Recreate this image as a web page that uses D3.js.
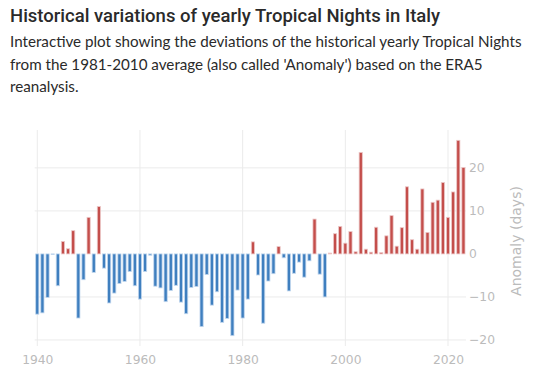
<!DOCTYPE html>
<html>
<head>
<meta charset="utf-8">
<script src="https://cdn.jsdelivr.net/npm/d3@7"></script>
<style>
  body { margin: 0; background: #fff; }
  .title { font-family: Roboto, sans-serif; font-weight: 500; font-size: 18.5px; fill: #2a2a2a; }
  .subtitle { font-family: Lato, sans-serif; font-size: 15.2px; fill: #2a2a2a; }
  .tick text { font-family: "DejaVu Sans", Verdana, sans-serif; font-size: 12.3px; fill: #bbb; }
  .axisText { font-family: "DejaVu Sans", Verdana, sans-serif; font-size: 14px; fill: #bbb; }
</style>
</head>
<body>
<div id="chart"></div>
<script>
var svgWidth = 546;
var svgHeight = 385;

// Anomaly of yearly tropical nights vs 1981-2010 average, 1940-2023
var firstYear = 1940;
var anomalies = [
  -14.0, -13.7, -10.1, -0.1, -7.4, 2.9, 1.2, 5.4, -14.9, -6.0,
  8.5, -4.3, 11.0, -3.3, -11.4, -9.1, -6.9, -6.4, -4.1, -7.4,
  -10.5, -4.1, -0.3, -7.5, -7.9, -11.1, -8.5, -7.3, -11.2, -13.9,
  -7.8, -7.6, -16.9, -4.8, -11.9, -8.8, -15.9, -15.0, -19.0, -8.4,
  -14.9, -10.5, 2.8, -4.9, -16.1, -6.3, -4.6, 1.7, -0.9, -8.6,
  -4.5, -1.9, -5.4, -1.6, 8.1, -4.7, -10.0, 0.2, 4.7, 6.4,
  2.5, 5.2, 0.5, 23.6, 1.1, 0.4, 6.2, 0.3, 4.2, 8.9,
  1.8, 6.1, 15.6, 3.3, 1.1, 15.1, 5.0, 12.0, 12.5, 16.6,
  8.5, 14.4, 26.4, 20.1
];
var years = anomalies.map((d, i) => firstYear + i);
var xTicks = [1940, 1960, 1980, 2000, 2020];
var yTicks = [-20, -10, 0, 10, 20];

var data = years.map((y, i) => ({ year: y, value: anomalies[i] }));

var margin = { top: 130, right: 80, bottom: 39, left: 34.7 };
var width = svgWidth - margin.left - margin.right;
var height = svgHeight - margin.top - margin.bottom;

var svg = d3.select("#chart")
  .append("svg")
  .attr("width", svgWidth)
  .attr("height", svgHeight);

// Title and description
svg.append("text")
  .attr("class", "title")
  .attr("x", 10)
  .attr("y", 22)
  .text("Historical variations of yearly Tropical Nights in Italy");

var subLines = [
  "Interactive plot showing the deviations of the historical yearly Tropical Nights",
  "from the 1981-2010 average (also called 'Anomaly') based on the ERA5",
  "reanalysis."
];
svg.selectAll(".subtitle")
  .data(subLines)
  .enter()
  .append("text")
  .attr("class", "subtitle")
  .attr("x", 10)
  .attr("y", (d, i) => 47 + i * 22.5)
  .text(d => d);

var chartGroup = svg.append("g")
  .attr("transform", `translate(${margin.left}, ${margin.top})`);

var xScale = d3.scaleLinear()
  .domain([1939.5, 2023.5])
  .range([0, width]);

var yScale = d3.scaleLinear()
  .domain([-21.4, 28.8])
  .range([height, 0]);

// Gridlines
chartGroup.append("g")
  .selectAll("line")
  .data(xTicks)
  .enter()
  .append("line")
  .attr("x1", d => xScale(d))
  .attr("x2", d => xScale(d))
  .attr("y1", 0)
  .attr("y2", height)
  .attr("stroke", "#ebebeb")
  .attr("stroke-width", 1);

chartGroup.append("g")
  .selectAll("line")
  .data(yTicks.filter(d => d !== 0))
  .enter()
  .append("line")
  .attr("x1", 0)
  .attr("x2", width)
  .attr("y1", d => yScale(d))
  .attr("y2", d => yScale(d))
  .attr("stroke", "#ebebeb")
  .attr("stroke-width", 1);

// Axes (labels only)
var bottomAxis = d3.axisBottom(xScale)
  .tickValues(xTicks)
  .tickFormat(d3.format("d"))
  .tickSize(0)
  .tickPadding(9);

var rightAxis = d3.axisRight(yScale)
  .tickValues(yTicks)
  .tickFormat(d => d < 0 ? "\u2212" + Math.abs(d) : d)
  .tickSize(0)
  .tickPadding(3);

chartGroup.append("g")
  .attr("transform", `translate(0, ${height})`)
  .call(bottomAxis)
  .call(g => g.select(".domain").remove());

chartGroup.append("g")
  .attr("transform", `translate(${width}, 0)`)
  .call(rightAxis)
  .call(g => g.select(".domain").remove());

// Bars
var step = xScale(1941) - xScale(1940);
var barW = step * 0.62;

chartGroup.selectAll(".bar")
  .data(data)
  .enter()
  .append("rect")
  .attr("class", "bar")
  .attr("x", d => xScale(d.year) - barW / 2)
  .attr("width", barW)
  .attr("y", d => yScale(Math.max(0, d.value)))
  .attr("height", d => Math.abs(yScale(d.value) - yScale(0)))
  .attr("fill", d => d.value >= 0 ? "#c44e4b" : "#3f7fbf")
  .attr("stroke", d => d.value >= 0 ? "#ecc8c8" : "#c2d7ee")
  .attr("stroke-width", 0.8);

// Axis title
chartGroup.append("text")
  .attr("class", "axisText")
  .attr("transform", `translate(${width + 55}, ${yScale(3)}) rotate(-90)`)
  .attr("text-anchor", "middle")
  .text("Anomaly (days)");
</script>
</body>
</html>
